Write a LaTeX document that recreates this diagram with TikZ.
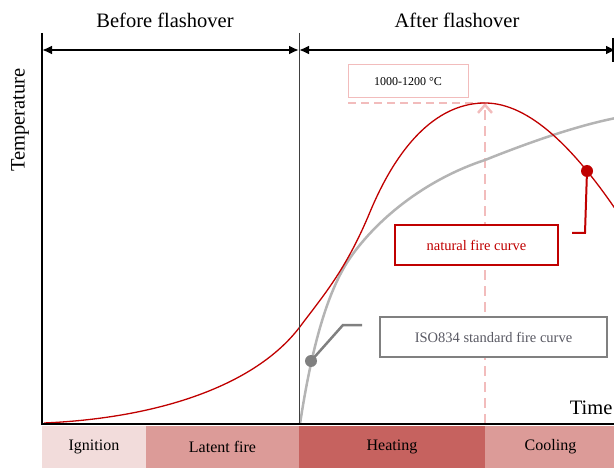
\documentclass[tikz,border=0pt]{standalone}
\usepackage{fontspec}
\setmainfont{Liberation Serif}
\usetikzlibrary{arrows.meta}
\definecolor{natred}{HTML}{C00000}
\definecolor{isogray}{HTML}{B4B4B4}
\definecolor{boxgray}{HTML}{808080}
\definecolor{peakpink}{HTML}{F2BCBC}
\definecolor{ignfill}{HTML}{F2DCDB}
\definecolor{latfill}{HTML}{DC9B98}
\definecolor{heatfill}{HTML}{C6625F}
\begin{document}
\begin{tikzpicture}[x=1pt, y=-1pt,
    phase/.style={anchor=west, minimum height=42pt, inner sep=0pt, outer sep=0pt, font=\fontsize{16}{18}\selectfont},
    span/.style={line width=2pt, {Latex[length=10pt,width=9pt]}-{Latex[length=10pt,width=9pt]}},
    tag/.style={font=\fontsize{20.5}{22}\selectfont},
    curvebox/.style={draw, fill=white, minimum height=40pt, inner sep=0pt, font=\fontsize{14.5}{16}\selectfont},
    dot/.style={circle, inner sep=0pt, minimum size=12pt}]
  \useasboundingbox (0,0) rectangle (614,468);
  \coordinate (origin) at (42,424);
  \coordinate (ytop) at (42,33);
  \coordinate (xend) at (614,424);
  \coordinate (flash) at (299,33);
  \coordinate (flashbot) at (299,424);
  \coordinate (peakbot) at (485,424);
  \coordinate (peak) at (485,103);
  \node[tag] (before) at (165,20) {Before flashover};
  \node[tag] (after) at (457,20) {After flashover};
  \draw[span] (42,50) -- (299,50);
  \draw[span] (299,50) -- (616,50);
  \draw[line width=1.5pt] (613,38) -- (613,62);
  \node[tag, rotate=90] (temp) at (20,120) {Temperature};
  \node[tag, anchor=east] (time) at (616,408) {Time};
  \draw[peakpink, line width=2.5pt, dash pattern=on 10pt off 6pt, -{Straight Barb[length=8pt,width=14pt]}] (peakbot) -- (peak);
  \draw[peakpink, line width=1.5pt, dash pattern=on 8pt off 5pt] (348,103) -- (peak);
  \node[draw=peakpink, line width=1pt, fill=white, minimum width=120pt, minimum height=33pt, inner sep=0pt, font=\fontsize{12}{14}\selectfont] (range) at (408,81.5) {1000-1200 \textdegree C};
  \draw[isogray, line width=2.5pt] (300,424) .. controls (312,345) and (328,290) .. (350,258)
    .. controls (380,215) and (430,178) .. (485,160)
    .. controls (525,144) and (575,126) .. (616,118);
  \draw[natred, line width=1.3pt] (44,423) .. controls (160,418) and (255,385) .. (299,328)
    .. controls (323,296) and (346,270) .. (370,212)
    .. controls (400,140) and (440,103) .. (peak)
    .. controls (530,103) and (575,150) .. (616,210);
  \draw[color={rgb,255:red,64;green,64;blue,64}, line width=1pt] (flash) -- (flashbot);
  \draw[line width=2.5pt] (ytop) -- (origin) -- (xend);
  \node[dot, fill=natred] (natdot) at (587,171) {};
  \node[dot, fill=boxgray] (isodot) at (311,361) {};
  \node[curvebox, draw=natred, line width=2.5pt, text=natred, minimum width=163pt] (natbox) at (476.5,245) {natural fire curve};
  \node[curvebox, draw=boxgray, line width=2pt, text={rgb,255:red,90;green,90;blue,100}, minimum width=227pt] (isobox) at (493.5,337) {ISO834 standard fire curve};
  \coordinate (natend) at (572,233);
  \coordinate (isoend) at (362,325);
  \draw[natred, line width=2pt] (natdot.center) -- (585,233) -- (natend);
  \draw[boxgray, line width=2.5pt] (isodot.center) -- (343,325) -- (isoend);
  \node[phase, fill=ignfill, minimum width=104pt] (ign) at (42,447) {Ignition};
  \node[phase, fill=latfill, minimum width=153pt] (lat) at (ign.east) {Latent fire};
  \node[phase, fill=heatfill, minimum width=186pt] (heat) at (lat.east) {Heating};
  \node[phase, fill=latfill, minimum width=131pt] (cool) at (heat.east) {Cooling};
\end{tikzpicture}
\end{document}
